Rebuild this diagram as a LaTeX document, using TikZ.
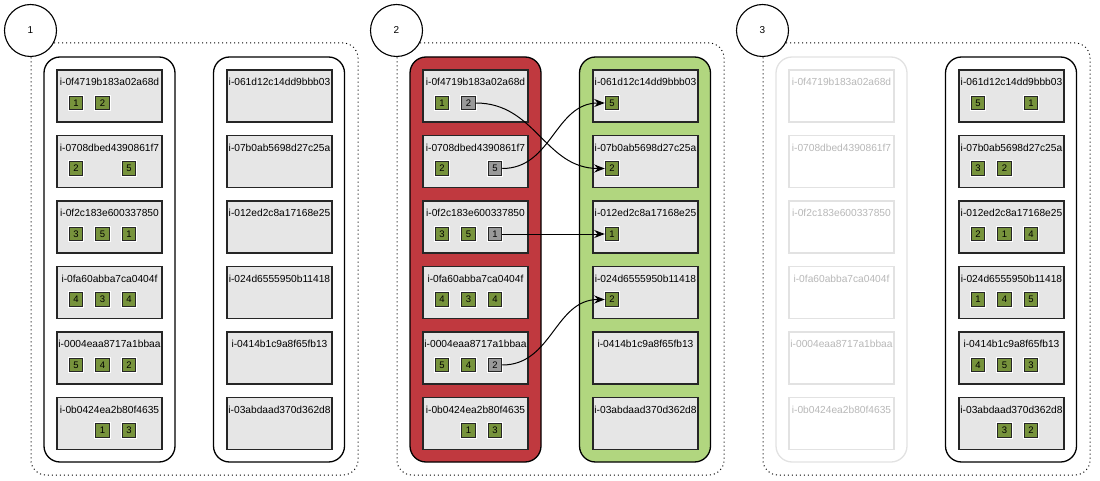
\documentclass[tikz,border=0pt]{standalone}
\usepackage{fontspec}
\setmainfont{Liberation Sans}
\usetikzlibrary{arrows.meta,calc}
\definecolor{olivebox}{HTML}{77933C}
\definecolor{grayslot}{HTML}{999999}
\definecolor{boxfill}{HTML}{E6E6E6}
\definecolor{redcol}{HTML}{C0393F}
\definecolor{greencol}{HTML}{B1D67F}
\definecolor{fadeline}{HTML}{E2E2E2}
\definecolor{fadetext}{HTML}{B8B8B8}
\begin{document}
\begin{tikzpicture}[x=1pt,y=-1pt,
  groupbox/.style={draw, dash pattern=on 1pt off 3pt, line width=1pt, rounded corners=15pt, minimum width=327pt, minimum height=432pt, inner sep=0pt},
  stepcircle/.style={circle, draw, line width=1.1pt, fill=white, minimum size=52pt, inner sep=0pt, font=\fontsize{10}{12}\selectfont},
  column/.style={draw, line width=1.3pt, rounded corners=16pt, inner sep=0pt, minimum width=131pt, minimum height=405pt},
  inst/.style={draw=black!85, line width=1.3pt, fill=boxfill, minimum width=105pt, minimum height=52pt, inner sep=0pt},
  fadeinst/.style={draw=fadeline, line width=1.3pt, fill=white, minimum width=105pt, minimum height=52pt, inner sep=0pt},
  lbl/.style={font=\fontsize{10.2}{12}\selectfont, inner sep=0pt},
  fadelbl/.style={lbl, text=fadetext},
  slot/.style={draw=black!85, line width=1pt, fill=olivebox, minimum size=13.5pt, inner sep=0pt, font=\fontsize{9.5}{9.5}\selectfont, preaction={draw=white, line width=3pt}},
  moving/.style={slot, fill=grayslot},
  move/.style={-{Stealth[length=10.5pt,width=8pt]}, line width=1pt}
]
\useasboundingbox (0,0) rectangle (1100,481);

% group frames and step circles
\foreach \p/\ox in {1/0,2/366,3/732}{
  \node[groupbox] (g\p) at (\ox+194.5,259) {};
  \node[stepcircle] (n\p) at (\ox+30.5,30.5) {\p};
}

% columns
\node[column, fill=white] (c1L) at (109.5,259.5) {};
\node[column, fill=white] (c1R) at (279,259.5) {};
\node[column, fill=redcol] (c2L) at (475.5,259.5) {};
\node[column, fill=greencol] (c2R) at (645,259.5) {};
\node[column, draw=fadeline, fill=white] (c3L) at (841.5,259.5) {};
\node[column, fill=white] (c3R) at (1011,259.5) {};

% instance boxes
\foreach \p/\ox/\lstyle/\tstyle in {1/0/inst/lbl,2/366/inst/lbl,3/732/fadeinst/fadelbl}{
  \foreach \r/\nm in {1/0f4719b183a02a68d,2/0708dbed4390861f7,3/0f2c183e600337850,4/0fa60abba7ca0404f,5/0004eaa8717a1bbaa,6/0b0424ea2b80f4635}{
    \node[\lstyle] (p\p L\r) at (\ox+109.5,30.5+65.5*\r) {};
    \node[\tstyle] (p\p L\r t) at (\ox+109.5,16.5+65.5*\r) {i-\nm};
  }
  \foreach \r/\nm in {1/061d12c14dd9bbb03,2/07b0ab5698d27c25a,3/012ed2c8a17168e25,4/024d6555950b11418,5/0414b1c9a8f65fb13,6/03abdaad370d362d8}{
    \node[inst] (p\p R\r) at (\ox+279.5,30.5+65.5*\r) {};
    \node[lbl] (p\p R\r t) at (\ox+279.5,16.5+65.5*\r) {i-\nm};
  }
}

% slots
\foreach \p/\c/\r/\k/\n/\s in {
  1/L/1/1/1/slot, 1/L/1/2/2/slot,
  1/L/2/1/2/slot, 1/L/2/3/5/slot,
  1/L/3/1/3/slot, 1/L/3/2/5/slot, 1/L/3/3/1/slot,
  1/L/4/1/4/slot, 1/L/4/2/3/slot, 1/L/4/3/4/slot,
  1/L/5/1/5/slot, 1/L/5/2/4/slot, 1/L/5/3/2/slot,
  1/L/6/2/1/slot, 1/L/6/3/3/slot,
  2/L/1/1/1/slot, 2/L/1/2/2/moving,
  2/L/2/1/2/slot, 2/L/2/3/5/moving,
  2/L/3/1/3/slot, 2/L/3/2/5/slot, 2/L/3/3/1/moving,
  2/L/4/1/4/slot, 2/L/4/2/3/slot, 2/L/4/3/4/slot,
  2/L/5/1/5/slot, 2/L/5/2/4/slot, 2/L/5/3/2/moving,
  2/L/6/2/1/slot, 2/L/6/3/3/slot,
  2/R/1/1/5/slot, 2/R/2/1/2/slot, 2/R/3/1/1/slot, 2/R/4/1/2/slot,
  3/R/1/1/5/slot, 3/R/1/3/1/slot,
  3/R/2/1/3/slot, 3/R/2/2/2/slot,
  3/R/3/1/2/slot, 3/R/3/2/1/slot, 3/R/3/3/4/slot,
  3/R/4/1/1/slot, 3/R/4/2/4/slot, 3/R/4/3/5/slot,
  3/R/5/1/4/slot, 3/R/5/2/5/slot, 3/R/5/3/3/slot,
  3/R/6/2/3/slot, 3/R/6/3/2/slot}{
  \node[\s] (p\p\c\r-\k) at ($(p\p\c\r)+(\k*26.5-60,7)$) {\n};
}

% moves
\draw[move] (p2L1-2.east) .. controls +(60,0) and +(-60,0) .. (p2R2-1.west);
\draw[move] (p2L2-3.east) .. controls +(50,0) and +(-50,0) .. (p2R1-1.west);
\draw[move] (p2L3-3.east) -- (p2R3-1.west);
\draw[move] (p2L5-3.east) .. controls +(50,0) and +(-50,0) .. (p2R4-1.west);
\end{tikzpicture}
\end{document}
